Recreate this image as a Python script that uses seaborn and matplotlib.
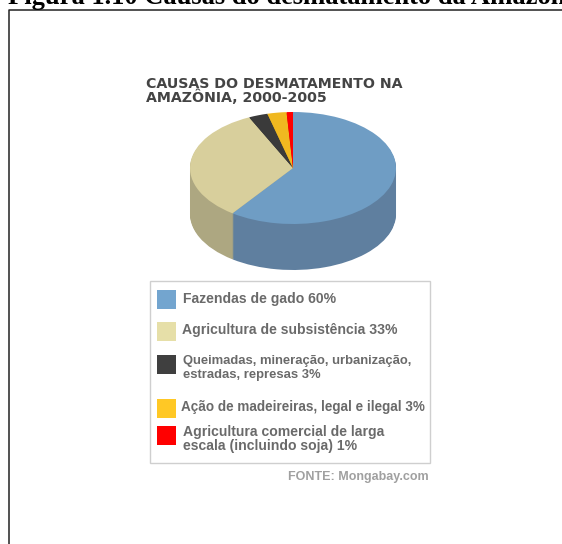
#!/usr/bin/env python3
# -*- coding: utf-8 -*-

import numpy as np
import matplotlib
matplotlib.use("Agg")
import matplotlib.pyplot as plt
from matplotlib.patches import Rectangle
import seaborn as sns

causes = ["Fazendas de gado", "Agricultura de subsistência",
          "Queimadas, mineração, urbanização,\nestradas, represas",
          "Ação de madeireiras, legal e ilegal",
          "Agricultura comercial de larga\nescala (incluindo soja)"]
shares = [60, 33, 3, 3, 1]

top_colors = sns.color_palette(["#6f9dc4", "#d8cf9c", "#3a3a3a", "#f0b820", "#ff0000"])
side_colors = sns.color_palette(["#5f7f9f", "#ada781", "#333333", "#c89a1a", "#cc0000"])
key_colors = sns.color_palette(["#73a5cf", "#e6dfa8", "#3f3f3f", "#ffc825", "#ff0000"])

sns.set_style("white")
plt.rcParams['font.family'] = ['Liberation Sans', 'DejaVu Sans']

W, H = 562, 544
fig = plt.figure(figsize=(W/100, H/100), dpi=100)
ax = fig.add_axes([0, 0, 1, 1])
ax.set_xlim(0, W)
ax.set_ylim(H, 0)
ax.axis("off")

# page caption, cut by the top of the scan, and frame (no right side in the scan)
ax.text(8, 4, "Figura 1.10 Causas do desmatamento da Amazônia", family="Liberation Serif",
        fontweight="bold", fontsize=19.1, color="black", va="baseline", clip_on=True)
ax.plot([8.5, 8.5, W], [H, 10, 10], color="#222222", lw=1.1)

# pie axes: top ellipse spans x 190-396, y 112-224, side is 46 px deep
px, py, rx, ry, depth = 190, 112, 103, 56, 46
pie_ax = fig.add_axes([px/W, 1-(py+2*ry+depth)/H, 2*rx/W, (2*ry+depth)/H])
flat = {"linewidth": 0}
for dz in np.linspace(depth, 1, 46):
    pie_ax.pie(shares, colors=side_colors, startangle=90, counterclock=False,
               center=(0, -dz/ry), radius=1, frame=False, wedgeprops=flat)
pie_ax.pie(shares, colors=top_colors, startangle=90, counterclock=False,
           center=(0, 0), radius=1, frame=False, wedgeprops=flat)
pie_ax.set_aspect("auto")
pie_ax.set_xlim(-1, 1)
pie_ax.set_ylim(-1-depth/ry, 1)
pie_ax.axis("off")

ax.text(146, 88, "CAUSAS DO DESMATAMENTO NA", family="DejaVu Sans", fontweight="bold",
        fontsize=10.2, color="#444444", va="baseline")
ax.text(146, 102, "AMAZÔNIA, 2000-2005", family="DejaVu Sans", fontweight="bold",
        fontsize=10.2, color="#444444", va="baseline")

# legend box
ax.add_patch(Rectangle((150, 281), 280, 182, fill=False, ec="#cfcfcf", lw=1.0))
key_y = [290, 322, 355, 399, 426]
text_y = [298.5, 330, 368, 407, 439]
text_x = [183, 182, 183, 181, 183]
text_size = [10.1, 10.1, 9.4, 9.75, 10.1]
text_gap = [1.05, 1.05, 1.2, 1.05, 1.05]
for i in range(len(causes)):
    ax.add_patch(Rectangle((157, key_y[i]), 19, 19, fc=key_colors[i], ec="none"))
    ax.text(text_x[i], text_y[i], f"{causes[i]} {shares[i]}%", fontweight="bold",
            fontsize=text_size[i], color="#6a6a6a", va="center", linespacing=text_gap[i])

ax.text(429, 477, "FONTE: Mongabay.com", fontweight="bold", fontsize=9.0, color="#a0a0a0",
        ha="right", va="center")

fig.savefig("out.png", dpi=100)
